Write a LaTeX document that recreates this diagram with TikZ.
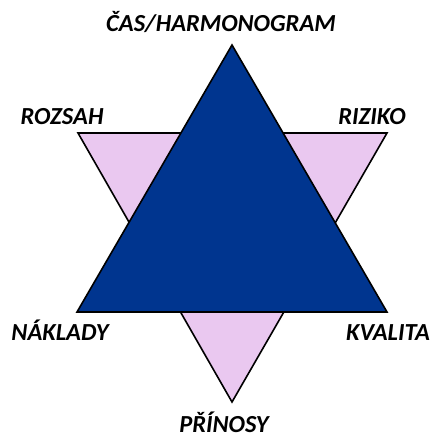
\documentclass[tikz,border=0pt]{standalone}
\usepackage{fontspec}
\setmainfont{Carlito}
\usepackage{tikz}
\usetikzlibrary{positioning,calc}
\definecolor{stblue}{HTML}{00358F}
\definecolor{stlilac}{HTML}{EAC8F0}

\begin{document}
\begin{tikzpicture}[x=1pt,y=-1pt,
    label/.style={font=\fontsize{24.5}{28}\selectfont\bfseries\itshape,text=black,inner sep=0pt,anchor=base}]
        \useasboundingbox (0,0) rectangle (433,436);

        % Downward triangle
        \coordinate (tl) at (78,133);
        \coordinate (tr) at (387,133);
        \coordinate (bot) at (232,402);
        \draw[fill=stlilac,draw=black,line width=1.6pt,line join=miter]
          (tl) -- (tr) -- (bot) -- cycle;

        % Upward triangle
        \coordinate (top) at (232,45);
        \coordinate (bl) at (77,312);
        \coordinate (br) at (387,312);
        \draw[fill=stblue,draw=black,line width=1.6pt,line join=miter]
          (top) -- (br) -- (bl) -- cycle;

        % Labels
        \node[label] (cas) at (221,32) {ČAS/HARMONOGRAM};
        \node[label] (rozsah) at (62,124) {ROZSAH};
        \node[label] (riziko) at (372,124) {RIZIKO};
        \node[label] (naklady) at (60,340) {NÁKLADY};
        \node[label] (kvalita) at (388,340) {KVALITA};
        \node[label] (prinosy) at (224,432) {PŘÍNOSY};
      \end{tikzpicture}
\end{document}
